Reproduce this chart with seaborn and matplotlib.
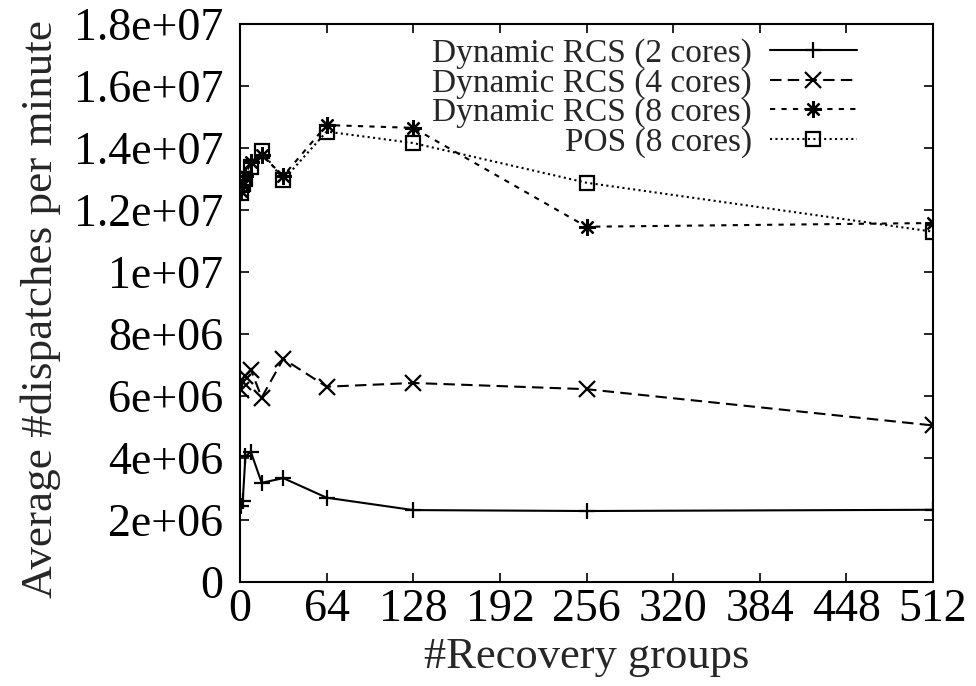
import matplotlib
matplotlib.use("Agg")
import matplotlib.pyplot as plt
import seaborn as sns
import pandas as pd

# Number of recovery groups
groups = [1, 2, 4, 8, 16, 32, 64, 128, 256, 512]

# Average dispatches per minute for each configuration
rcs_2cores = [2.45e6, 2.6e6, 4.05e6, 4.2e6, 3.2e6, 3.35e6, 2.72e6, 2.32e6, 2.29e6, 2.33e6]
rcs_4cores = [6.2e6, 6.45e6, 6.65e6, 6.85e6, 5.95e6, 7.2e6, 6.3e6, 6.42e6, 6.22e6, 5.05e6]
rcs_8cores = [1.26e7, 1.28e7, 1.31e7, 1.355e7, 1.377e7, 1.31e7, 1.474e7, 1.465e7, 1.146e7, 1.158e7]
pos_8cores = [1.255e7, 1.285e7, 1.30e7, 1.34e7, 1.39e7, 1.297e7, 1.453e7, 1.416e7, 1.288e7, 1.13e7]

series_names = ["Dynamic RCS (2 cores)", "Dynamic RCS (4 cores)",
                "Dynamic RCS (8 cores)", "POS (8 cores)"]

x_ticks = [0, 64, 128, 192, 256, 320, 384, 448, 512]
y_ticks = [0, 2e6, 4e6, 6e6, 8e6, 1e7, 1.2e7, 1.4e7, 1.6e7, 1.8e7]
y_tick_labels = ["0", "2e+06", "4e+06", "6e+06", "8e+06", "1e+07",
                 "1.2e+07", "1.4e+07", "1.6e+07", "1.8e+07"]

sns.set_theme(style="ticks")
plt.rcParams["font.family"] = ["Liberation Serif", "DejaVu Serif"]

fig = plt.figure(figsize=(9.76, 6.86), dpi=100)
ax = fig.add_axes([0.2459, 0.1516, 0.7101, 0.8134])

styles = [
    dict(marker="+", markersize=12, linestyle="-"),
    dict(marker="x", markersize=11, linestyle=(0, (5.5, 3))),
    dict(marker=(8, 2, 0), markersize=12, linestyle=(0, (2.5, 3))),
    dict(marker="s", markersize=10, linestyle=(0, (1, 1.6)), fillstyle="none"),
]

for name, values, st in zip(series_names,
                            [rcs_2cores, rcs_4cores, rcs_8cores, pos_8cores],
                            styles):
    df = pd.DataFrame({"groups": groups, "value": values})
    sns.lineplot(data=df, x="groups", y="value", ax=ax, sort=False,
                 estimator=None, color="black", linewidth=1.5,
                 markeredgewidth=1.6, markeredgecolor="black",
                 label=name, **st)

ax.set_xlim(0, 512)
ax.set_ylim(0, 1.8e7)
ax.set_xticks(x_ticks)
ax.set_xticklabels([str(t) for t in x_ticks])
ax.set_yticks(y_ticks)
ax.set_yticklabels(y_tick_labels)

ax.tick_params(axis="both", which="both", direction="in", length=6.5, width=1.2,
               top=True, right=True, labelsize=33, colors="black")
ax.tick_params(axis="x", pad=5)
ax.tick_params(axis="y", pad=12)

for sp in ax.spines.values():
    sp.set_visible(True)
    sp.set_linewidth(1.5)
    sp.set_color("black")

ax.set_xlabel("#Recovery groups", fontsize=32, labelpad=4)
ax.set_ylabel("Average #dispatches per minute", fontsize=32.5, labelpad=9)
ax.yaxis.label.set_y(0.489)

leg = ax.legend(loc="upper right", bbox_to_anchor=(0.89, 0.975),
                frameon=False, markerfirst=False, fontsize=24,
                handlelength=2.6, handletextpad=0.55, labelspacing=-0.03,
                borderpad=0, borderaxespad=0)

fig.savefig("out.png", dpi=100)
